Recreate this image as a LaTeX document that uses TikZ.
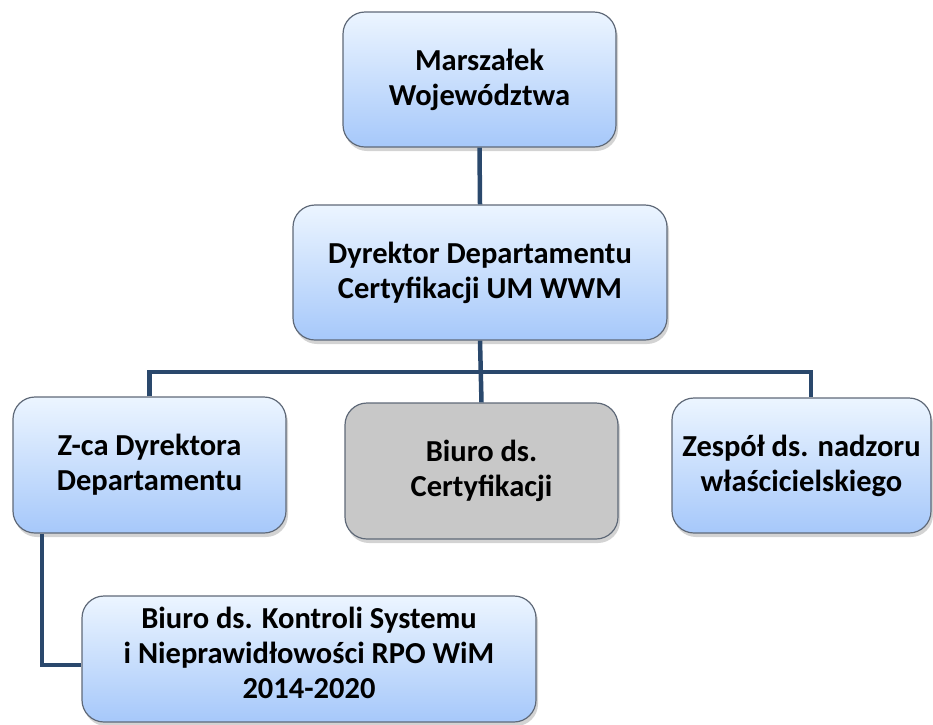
\documentclass[tikz,border=0pt]{standalone}
\usepackage{fontspec}
\setmainfont{Carlito}
\usetikzlibrary{shadows}
\definecolor{boxtop}{RGB}{236,245,255}
\definecolor{boxbot}{RGB}{166,200,250}
\definecolor{boxgray}{RGB}{200,200,200}
\definecolor{boxline}{RGB}{95,105,120}
\definecolor{conn}{RGB}{42,72,108}
\tikzset{
  orgbox/.style={draw=boxline, line width=1.2pt, rounded corners=22pt,
    top color=boxtop, bottom color=boxbot, align=center, inner sep=0pt,
    font=\fontsize{30.5}{35}\selectfont\bfseries,
    drop shadow={shadow xshift=2pt, shadow yshift=-4pt, opacity=0.35}},
  graybox/.style={orgbox, top color=boxgray, bottom color=boxgray},
  link/.style={draw=conn, line width=4.5pt}
}
\begin{document}
\begin{tikzpicture}[x=1pt,y=-1pt]
\useasboundingbox (0,0) rectangle (933,724);
\node[orgbox, minimum width=273pt, minimum height=135pt] (m) at (479.5,79.5) {Marszałek\\Województwa};
\node[orgbox, minimum width=374pt, minimum height=135pt] (d) at (480,272.5) {Dyrektor Departamentu\\Certyfikacji UM WWM};
\node[orgbox, minimum width=273pt, minimum height=136pt] (z) at (149.5,465) {Z-ca Dyrektora\\Departamentu};
\node[graybox, minimum width=273pt, minimum height=136pt] (b) at (481.5,471) {Biuro ds.\\Certyfikacji};
\node[orgbox, minimum width=259pt, minimum height=135pt] (s) at (801.5,465.5) {Zespół ds. nadzoru\\właścicielskiego};
\node[orgbox, minimum width=454pt, minimum height=126pt] (k) at (309,659) {Biuro ds. Kontroli Systemu\\i Nieprawidłowości RPO WiM\\2014-2020\\[-23pt]\mbox{}};
\draw[link] (m.south) -- (d.north);
\draw[link] (d.south) -- (b.north);
\coordinate (bus) at (480,372);
\draw[link] (z.north) |- (bus) -| ([xshift=9.5pt]s.north);
\draw[link] ([xshift=-107.5pt]z.south) |- ([yshift=-6pt]k.west);
\end{tikzpicture}
\end{document}
